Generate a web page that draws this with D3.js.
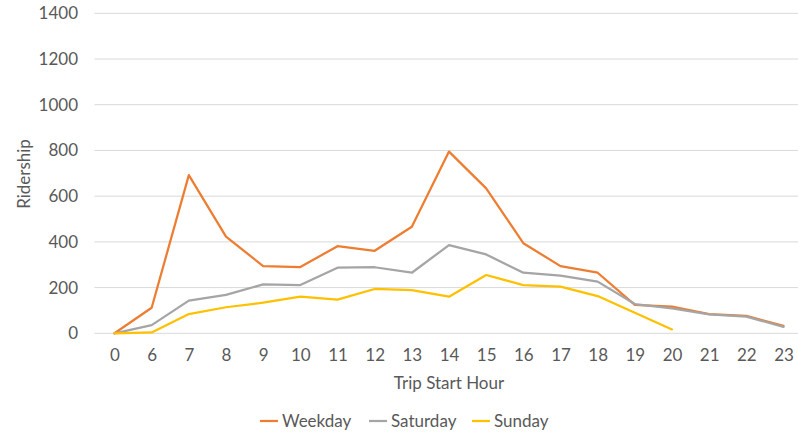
<!DOCTYPE html>
<html>
<head>
<meta charset="utf-8">
<script src="https://cdn.jsdelivr.net/npm/d3@7"></script>
<style>
  body { margin: 0; background: #fff; }
  svg { display: block; font-family: Lato, "Open Sans", sans-serif; }
</style>
</head>
<body>
<svg id="chart" width="798" height="435"></svg>
<script>
// Trip start hours (category labels along the x axis)
const hours = ["0", "6", "7", "8", "9", "10", "11", "12", "13", "14", "15", "16", "17", "18", "19", "20", "21", "22", "23"];

// Ridership per hour for each day type
const weekday  = [0, 112, 692, 423, 294, 290, 381, 361, 466, 795, 634, 394, 294, 265, 124, 117, 84, 76, 33];
const saturday = [0, 36, 143, 168, 214, 211, 287, 289, 265, 386, 345, 265, 252, 226, 128, 109, 83, 73, 28];
const sunday   = [0, 4, 84, 114, 134, 160, 147, 194, 189, 160, 255, 211, 204, 163, 90, 17, null, null, null];

const yTicks = [0, 200, 400, 600, 800, 1000, 1200, 1400];

const series = [
  { name: "Weekday",  values: weekday,  color: "#ED7D31" },
  { name: "Saturday", values: saturday, color: "#A5A5A5" },
  { name: "Sunday",   values: sunday,   color: "#FFC000" }
];

const svg = d3.select("#chart");
const textColor = "#595959";
const fontSize = "17px";

const x = d3.scalePoint().domain(hours).range([114.5, 783.5]);
const y = d3.scaleLinear().domain([0, 1400]).range([333.3, 13.3]);

// Horizontal gridlines
svg.append("g")
  .selectAll("line")
  .data(yTicks)
  .join("line")
  .attr("x1", 94.5).attr("x2", 798)
  .attr("y1", d => y(d)).attr("y2", d => y(d))
  .attr("stroke", "#D9D9D9")
  .attr("stroke-width", 1);

// Y axis labels
const yAxis = svg.append("g")
  .attr("transform", "translate(78,0)")
  .call(d3.axisLeft(y).tickValues(yTicks).tickSize(0).tickPadding(0).tickFormat(d3.format("d")));
yAxis.select(".domain").remove();
yAxis.selectAll("text")
  .attr("fill", textColor)
  .style("font-size", fontSize)
  .style("font-family", "Lato, sans-serif");

// X axis labels
const xAxis = svg.append("g")
  .attr("transform", "translate(0,349)")
  .call(d3.axisBottom(x).tickSize(0).tickPadding(0));
xAxis.select(".domain").remove();
xAxis.selectAll("text")
  .attr("fill", textColor)
  .style("font-size", fontSize)
  .style("font-family", "Lato, sans-serif");

// Axis titles
svg.append("text")
  .attr("x", 449).attr("y", 389)
  .attr("text-anchor", "middle")
  .attr("fill", textColor)
  .style("font-size", fontSize)
  .text("Trip Start Hour");

svg.append("text")
  .attr("transform", "translate(30,174) rotate(-90)")
  .attr("text-anchor", "middle")
  .attr("fill", textColor)
  .style("font-size", fontSize)
  .text("Ridership");

// Lines
const line = d3.line()
  .defined(d => d.v != null)
  .x(d => x(d.h))
  .y(d => y(d.v));

svg.append("g")
  .selectAll("path")
  .data(series)
  .join("path")
  .attr("d", s => line(s.values.map((v, i) => ({ h: hours[i], v }))))
  .attr("fill", "none")
  .attr("stroke", s => s.color)
  .attr("stroke-width", 2.25)
  .attr("stroke-linejoin", "round")
  .attr("stroke-linecap", "round");

// Legend
const legendPos = [260, 369, 472];
const legend = svg.append("g")
  .selectAll("g")
  .data(series)
  .join("g")
  .attr("transform", (s, i) => `translate(${legendPos[i]},421)`);
legend.append("line")
  .attr("x1", 0).attr("x2", 18)
  .attr("stroke", s => s.color)
  .attr("stroke-width", 2.25);
legend.append("text")
  .attr("x", 22).attr("y", 6)
  .attr("fill", textColor)
  .style("font-size", fontSize)
  .text(s => s.name);
</script>
</body>
</html>
